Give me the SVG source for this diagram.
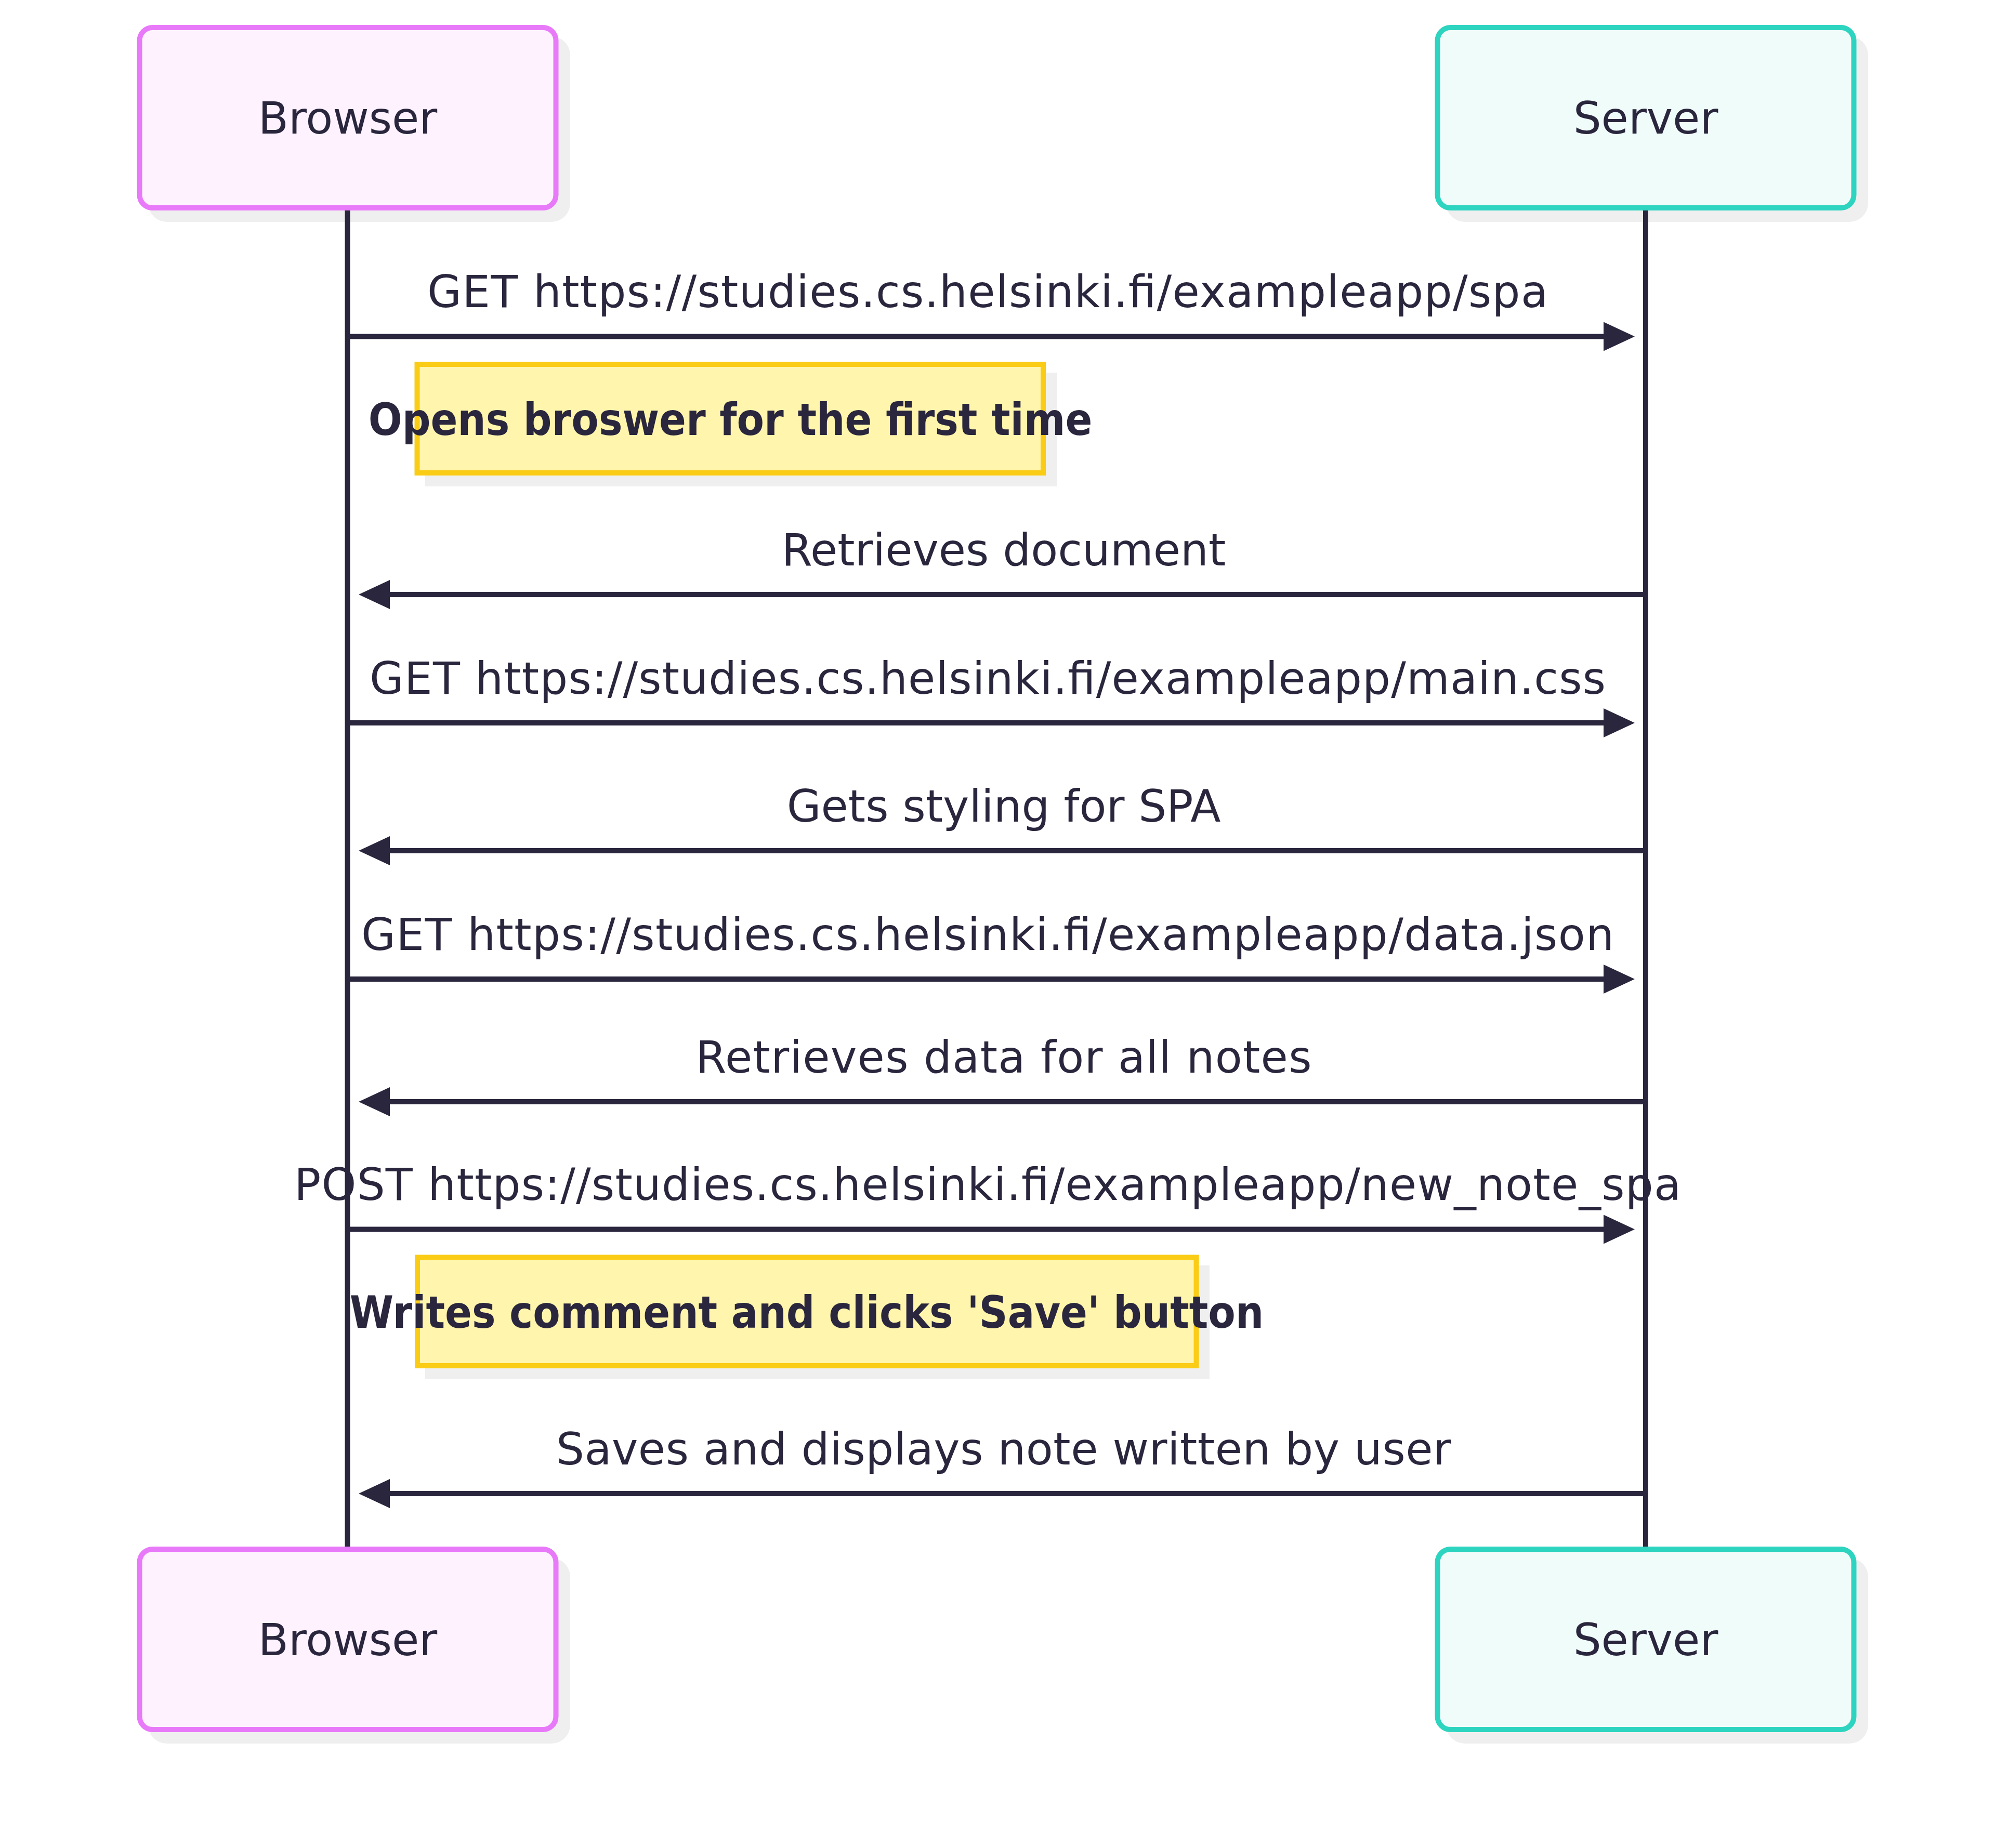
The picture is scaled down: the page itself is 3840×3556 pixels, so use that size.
<svg xmlns="http://www.w3.org/2000/svg" width="3840" height="3556" viewBox="0 0 3840 3556">
  <style>
    .lbl { font-family: "DejaVu Sans", "Liberation Sans", sans-serif; font-size: 85px; fill: #29263d; text-anchor: middle; }
    .note-t { font-family: "DejaVu Sans Condensed", "DejaVu Sans", sans-serif; font-stretch: condensed; font-weight: bold; font-size: 85px; fill: #29263d; text-anchor: middle; }
    .shadow { fill: #efefef; }
    .pb { fill: #fdf2fe; stroke: #e879f9; stroke-width: 10; }
    .ps { fill: #f0fcfa; stroke: #2dd4bf; stroke-width: 10; }
    .note { fill: #fff5ad; stroke: #facc15; stroke-width: 10; }
    .life { stroke: #29263d; stroke-width: 10; fill: none; }
    .msg { stroke: #29263d; stroke-width: 10; fill: none; marker-end: url(#arrow); }
  </style>
  <defs>
    <marker id="arrow" markerUnits="userSpaceOnUse" markerWidth="60" markerHeight="56" refX="10" refY="28" orient="auto" viewBox="0 0 60 56">
      <path d="M0,0 L60,28 L0,56 z" fill="#29263d"/>
    </marker>
  </defs>
  <rect width="3840" height="3556" fill="#ffffff"/>

  <!-- message labels -->
  <g id="labels">
    <text class="lbl" x="1900" y="591" textLength="2156" lengthAdjust="spacing">GET https://studies.cs.helsinki.fi/exampleapp/spa</text>
    <text class="lbl" x="1931" y="1087.5">Retrieves document</text>
    <text class="lbl" x="1900" y="1334.5" textLength="2378" lengthAdjust="spacing">GET https://studies.cs.helsinki.fi/exampleapp/main.css</text>
    <text class="lbl" x="1931" y="1580.5">Gets styling for SPA</text>
    <text class="lbl" x="1900" y="1827.5" textLength="2410" lengthAdjust="spacing">GET https://studies.cs.helsinki.fi/exampleapp/data.json</text>
    <text class="lbl" x="1931" y="2063.5" textLength="1185" lengthAdjust="spacing">Retrieves data for all notes</text>
    <text class="lbl" x="1900" y="2309" textLength="2668" lengthAdjust="spacing">POST https://studies.cs.helsinki.fi/exampleapp/new_note_spa</text>
    <text class="lbl" x="1931" y="2817.5" textLength="1722" lengthAdjust="spacing">Saves and displays note written by user</text>
  </g>

  <!-- participants -->
  <g id="browser-top">
    <rect class="shadow" x="285" y="70" width="812" height="357" rx="36"/>
    <rect class="pb" x="268.5" y="53" width="801" height="347" rx="25"/>
    <text class="lbl" x="669" y="257">Browser</text>
  </g>
  <g id="server-top">
    <rect class="shadow" x="2782" y="70" width="812" height="357" rx="36"/>
    <rect class="ps" x="2765.5" y="53" width="801" height="347" rx="25"/>
    <text class="lbl" x="3166" y="257">Server</text>
  </g>
  <g id="browser-bottom">
    <rect class="shadow" x="285" y="2998" width="812" height="357" rx="36"/>
    <rect class="pb" x="268.5" y="2981" width="801" height="347" rx="25"/>
    <text class="lbl" x="669" y="3184.5">Browser</text>
  </g>
  <g id="server-bottom">
    <rect class="shadow" x="2782" y="2998" width="812" height="357" rx="36"/>
    <rect class="ps" x="2765.5" y="2981" width="801" height="347" rx="25"/>
    <text class="lbl" x="3166" y="3184.5">Server</text>
  </g>

  <!-- lifelines -->
  <g id="lifelines">
    <line class="life" x1="668.5" y1="405" x2="668.5" y2="2976"/>
    <line class="life" x1="3166" y1="405" x2="3166" y2="2976"/>
  </g>

  <!-- connectors -->
  <g id="connectors">
    <line class="msg" x1="673" y1="647.5" x2="3095" y2="647.5"/>
    <line class="msg" x1="3166" y1="1144" x2="740" y2="1144"/>
    <line class="msg" x1="673" y1="1391" x2="3095" y2="1391"/>
    <line class="msg" x1="3166" y1="1637" x2="740" y2="1637"/>
    <line class="msg" x1="673" y1="1884" x2="3095" y2="1884"/>
    <line class="msg" x1="3166" y1="2120" x2="740" y2="2120"/>
    <line class="msg" x1="673" y1="2365.5" x2="3095" y2="2365.5"/>
    <line class="msg" x1="3166" y1="2874" x2="740" y2="2874"/>
  </g>

  <!-- notes -->
  <g id="note1">
    <rect class="shadow" x="818" y="717" width="1215" height="219"/>
    <rect class="note" x="802.5" y="701" width="1204.5" height="209"/>
    <text class="note-t" x="1405" y="837">Opens broswer for the first time</text>
  </g>
  <g id="note2">
    <rect class="shadow" x="818" y="2435" width="1509" height="219"/>
    <rect class="note" x="803" y="2419.5" width="1498.5" height="208.5"/>
    <text class="note-t" x="1552" y="2555">Writes comment and clicks 'Save' button</text>
  </g>
</svg>
